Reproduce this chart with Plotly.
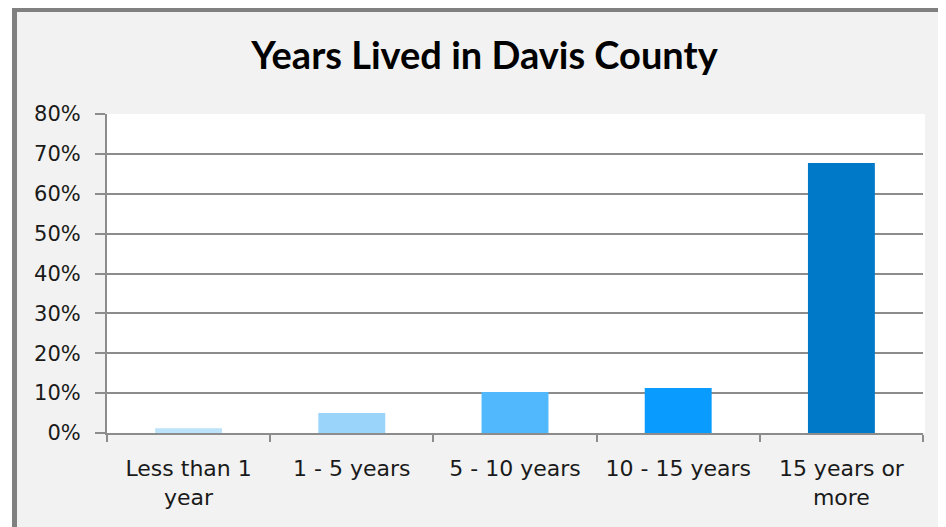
import plotly.graph_objects as go

categories = ["Less than 1<br>year", "1 - 5 years", "5 - 10 years", "10 - 15 years", "15 years or<br>more"]
values = [1.2, 5.0, 10.3, 11.3, 67.7]
bar_colors = ["#bde3fb", "#9ad4fb", "#52b8fd", "#0a9bff", "#0079c8"]
y_ticks = [0, 10, 20, 30, 40, 50, 60, 70, 80]
y_tick_text = [f"{v}%" for v in y_ticks]

# page body has an 8px margin; figure is placed at (8, 8)
OFF = 8
W, H = 946 - OFF, 527 - OFF
L, R, T, B = 107 - OFF, 23, 114 - OFF, 94
pw, ph = W - L - R, H - T - B

def px_x(p):
    return (p - OFF - L) / pw

def px_y(p):
    return (H - B - (p - OFF)) / ph

fig = go.Figure(go.Bar(
    x=categories, y=values,
    marker=dict(color=bar_colors, line=dict(width=0)),
    width=0.41,
))

fig.update_layout(
    width=W, height=H,
    margin=dict(l=L, r=R, t=T, b=B),
    paper_bgcolor="white",
    plot_bgcolor="white",
    showlegend=False,
    title=dict(text="<b>Years Lived in Davis County</b>", x=(484.5 - OFF) / W, xanchor="center",
               xref="container",
               y=1 - (55.5 - OFF) / H, yanchor="middle",
               font=dict(family="Lato", size=38, color="black")),
    font=dict(family="DejaVu Sans", size=21, color="#1a1a1a"),
    shapes=[
        dict(type="rect", xref="paper", yref="paper", layer="below",
             x0=px_x(14.5), y0=px_y(560), x1=px_x(990), y1=px_y(9.5),
             fillcolor="#f2f2f2", line=dict(color="#808080", width=5)),
        dict(type="rect", xref="paper", yref="paper", layer="below",
             x0=0, y0=0, x1=px_x(925), y1=1,
             fillcolor="white", line=dict(width=0)),
    ],
)

fig.update_xaxes(
    type="category",
    showline=True, linecolor="#8c8c8c", linewidth=2,
    ticks="outside", tickson="boundaries", ticklen=7, tickcolor="#8c8c8c", tickwidth=2,
    showgrid=False, ticklabelstandoff=15,
    tickfont=dict(family="DejaVu Sans", size=22, color="#1a1a1a"),
)
fig.update_yaxes(
    range=[0, 80], tickvals=y_ticks, ticktext=y_tick_text,
    showline=True, linecolor="#8c8c8c", linewidth=2,
    ticks="outside", ticklen=10, tickcolor="#8c8c8c", tickwidth=2,
    showgrid=True, gridcolor="#8c8c8c", gridwidth=2,
    zeroline=False, ticklabelstandoff=10,
    tickfont=dict(family="DejaVu Sans", size=21, color="#1a1a1a"),
)

fig.write_html("out.html")
